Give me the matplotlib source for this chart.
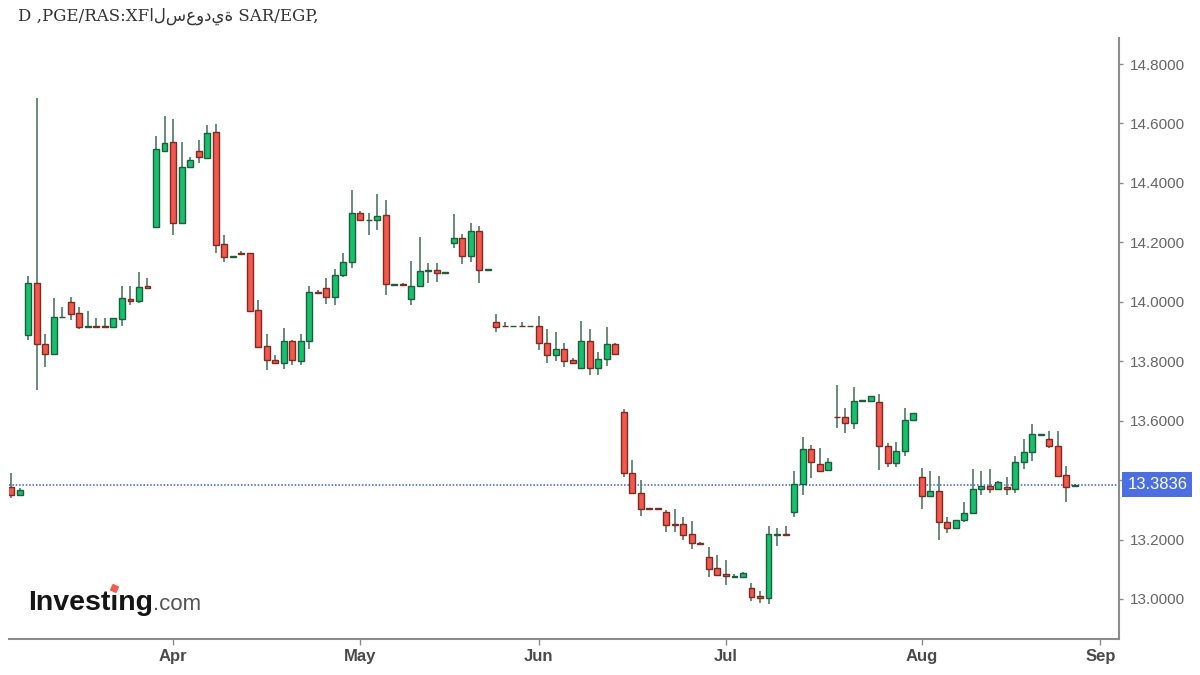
import matplotlib
matplotlib.use("Agg")
import matplotlib.pyplot as plt
from matplotlib.lines import Line2D
from matplotlib.transforms import blended_transform_factory
import numpy as np
import pandas as pd

# ---------------- data ----------------
first_day = "2025-03-05"
week_mask = "Sun Mon Tue Wed Thu"

opens = [13.377, 13.350, 13.888, 14.064, 13.858, 13.824, 13.948, 13.999, 13.961, 13.915,
         13.917, 13.917, 13.916, 13.942, 14.008, 14.004, 14.053, 14.253, 14.508, 14.537,
         14.264, 14.455, 14.509, 14.483, 14.570, 14.195, 14.151, 14.163, 14.163, 13.972,
         13.852, 13.804, 13.793, 13.869, 13.802, 13.869, 14.033, 14.047, 14.015, 14.090,
         14.133, 14.298, 14.274, 14.275, 14.292, 14.058, 14.060, 14.009, 14.053, 14.104,
         14.107, 14.096, 14.199, 14.216, 14.154, 14.238, 14.108, 13.933, 13.920, 13.918,
         13.920, 13.918, 13.919, 13.862, 13.820, 13.840, 13.804, 13.776, 13.868, 13.776,
         13.808, 13.858, 13.630, 13.425, 13.358, 13.305, 13.305, 13.294, 13.252, 13.251,
         13.218, 13.189, 13.142, 13.103, 13.083, 13.075, 13.075, 13.038, 13.011, 13.002,
         13.217, 13.219, 13.292, 13.386, 13.505, 13.454, 13.434, 13.614, 13.613, 13.591,
         13.666, 13.667, 13.664, 13.515, 13.457, 13.499, 13.602, 13.412, 13.347, 13.363,
         13.258, 13.238, 13.266, 13.288, 13.369, 13.380, 13.369, 13.376, 13.369, 13.462,
         13.496, 13.553, 13.537, 13.516, 13.417, 13.381]
highs = [13.425, 13.372, 14.088, 14.685, 13.892, 14.012, 13.983, 14.017, 13.981, 13.969,
         13.947, 13.947, 13.944, 14.054, 14.054, 14.101, 14.081, 14.559, 14.625, 14.614,
         14.537, 14.486, 14.544, 14.595, 14.598, 14.225, 14.153, 14.172, 14.165, 14.006,
         13.892, 13.821, 13.913, 13.872, 13.892, 14.054, 14.040, 14.081, 14.109, 14.163,
         14.376, 14.306, 14.298, 14.363, 14.343, 14.060, 14.062, 14.137, 14.219, 14.130,
         14.130, 14.101, 14.294, 14.228, 14.264, 14.256, 14.110, 13.958, 13.932, 13.920,
         13.933, 13.920, 13.952, 13.907, 13.899, 13.860, 13.810, 13.935, 13.907, 13.832,
         13.914, 13.860, 13.638, 13.468, 13.400, 13.306, 13.306, 13.300, 13.302, 13.277,
         13.262, 13.192, 13.176, 13.148, 13.131, 13.085, 13.090, 13.055, 13.028, 13.246,
         13.240, 13.246, 13.431, 13.544, 13.518, 13.507, 13.473, 13.720, 13.644, 13.712,
         13.670, 13.684, 13.690, 13.524, 13.529, 13.642, 13.625, 13.440, 13.431, 13.414,
         13.277, 13.266, 13.327, 13.436, 13.431, 13.436, 13.398, 13.410, 13.481, 13.538,
         13.589, 13.556, 13.565, 13.565, 13.448, 13.386]
lows = [13.339, 13.350, 13.871, 13.703, 13.782, 13.824, 13.947, 13.939, 13.909, 13.915,
        13.915, 13.915, 13.916, 13.919, 13.989, 13.997, 14.045, 14.253, 14.508, 14.225,
        14.264, 14.455, 14.468, 14.479, 14.165, 14.135, 14.150, 14.160, 13.970, 13.849,
        13.771, 13.793, 13.773, 13.787, 13.787, 13.840, 14.031, 13.993, 13.989, 14.085,
        14.113, 14.275, 14.224, 14.242, 14.023, 14.058, 14.058, 13.989, 14.053, 14.062,
        14.068, 14.094, 14.180, 14.126, 14.135, 14.062, 14.107, 13.897, 13.918, 13.918,
        13.918, 13.918, 13.838, 13.795, 13.802, 13.782, 13.793, 13.776, 13.754, 13.754,
        13.784, 13.824, 13.412, 13.358, 13.279, 13.304, 13.304, 13.226, 13.226, 13.199,
        13.167, 13.184, 13.075, 13.081, 13.047, 13.075, 13.075, 12.993, 12.985, 12.983,
        13.178, 13.217, 13.275, 13.350, 13.406, 13.432, 13.434, 13.574, 13.558, 13.571,
        13.665, 13.667, 13.434, 13.445, 13.445, 13.481, 13.602, 13.302, 13.347, 13.199,
        13.221, 13.238, 13.260, 13.288, 13.350, 13.356, 13.369, 13.350, 13.356, 13.437,
        13.465, 13.553, 13.507, 13.414, 13.327, 13.381]
closes = [13.350, 13.367, 14.064, 13.857, 13.824, 13.950, 13.950, 13.959, 13.914, 13.917,
          13.915, 13.915, 13.944, 14.012, 14.003, 14.051, 14.045, 14.514, 14.533, 14.264,
          14.455, 14.477, 14.486, 14.569, 14.191, 14.150, 14.152, 14.160, 13.970, 13.849,
          13.804, 13.793, 13.869, 13.804, 13.869, 14.032, 14.031, 14.015, 14.090, 14.133,
          14.298, 14.275, 14.276, 14.290, 14.059, 14.060, 14.058, 14.053, 14.104, 14.107,
          14.096, 14.101, 14.216, 14.154, 14.238, 14.107, 14.110, 13.916, 13.918, 13.920,
          13.918, 13.920, 13.862, 13.820, 13.842, 13.802, 13.793, 13.868, 13.776, 13.808,
          13.858, 13.824, 13.423, 13.358, 13.303, 13.304, 13.304, 13.249, 13.250, 13.215,
          13.189, 13.184, 13.101, 13.081, 13.077, 13.078, 13.089, 13.008, 13.004, 13.218,
          13.219, 13.217, 13.386, 13.505, 13.460, 13.432, 13.460, 13.612, 13.591, 13.667,
          13.668, 13.684, 13.515, 13.457, 13.499, 13.602, 13.625, 13.347, 13.363, 13.258,
          13.238, 13.266, 13.288, 13.369, 13.380, 13.369, 13.395, 13.369, 13.462, 13.496,
          13.554, 13.555, 13.516, 13.414, 13.378, 13.3836]

month_starts = ["2025-04-01", "2025-05-01", "2025-06-01", "2025-07-01", "2025-08-01", "2025-09-01"]
month_labels = ["Apr", "May", "Jun", "Jul", "Aug", "Sep"]
y_ticks = [13.0, 13.2, 13.4, 13.6, 13.8, 14.0, 14.2, 14.4, 14.6, 14.8]

title_text = "D ,PGE/RAS:XF" + "السعودية" + " SAR/EGP,"

# ---------------- figure ----------------
plt.rcParams["font.family"] = ["Liberation Sans", "DejaVu Sans"]
W, H = 1200, 675
fig = plt.figure(figsize=(W / 100, H / 100), dpi=100, facecolor="white")
ax = fig.add_axes([9 / W, 1 - 639 / H, 1110 / W, (639 - 38) / H])
ax.set_facecolor("white")

dates = pd.bdate_range(first_day, periods=len(opens), freq="C", weekmask=week_mask)
x = np.arange(len(dates))
o = np.array(opens); c = np.array(closes); hi = np.array(highs); lo = np.array(lows)
up = c >= o

face = np.where(up, "#14c26c", "#f4584c")
edge = np.where(up, "#1d5c3c", "#7c2a22")
body_bottom = np.minimum(o, c)
body_h = np.maximum(np.abs(c - o), 0.0015)

ax.vlines(x, lo, hi, color="#4d7a61", lw=1.2, zorder=2)
ax.bar(x, body_h, bottom=body_bottom, width=0.7, color=face, edgecolor=edge,
       linewidth=1.0, zorder=3)

ax.set_xlim(-0.28, 130.2)
ax.set_ylim(12.8654, 14.8876)

# current price line
last = closes[-1]
ax.axhline(last, color="#2f5ef5", ls=(0, (1, 1.2)), lw=1.1, zorder=1)

# spines
for s in ("top", "left"):
    ax.spines[s].set_visible(False)
for s in ("right", "bottom"):
    ax.spines[s].set_color("#8c8c8c")
    ax.spines[s].set_linewidth(1.5)

# y axis on the right (the 13.4 label is hidden behind the price box)
ax.yaxis.tick_right()
ax.set_yticks(y_ticks)
ax.set_yticklabels(["" if abs(v - last) < 0.05 else f"{v:.4f}" for v in y_ticks])
ax.tick_params(axis="y", length=3, width=1, color="#8c8c8c", pad=5,
               labelsize=11, labelcolor="#666666")

# x axis month ticks (trading-day index of each month start)
month_pos = [np.busday_count(first_day, m, weekmask=week_mask) for m in month_starts]
ax.set_xticks(month_pos)
ax.set_xticklabels(month_labels, fontweight="bold")
ax.tick_params(axis="x", length=4, width=1, color="#8c8c8c", pad=3,
               labelsize=12, labelcolor="#4a4a4a")

# price box
bt = blended_transform_factory(ax.transAxes, ax.transData)
ax.annotate(f"{last:.4f}", xy=(1.0, last), xycoords=bt, xytext=(6, 0),
            textcoords="offset points", ha="left", va="center", fontsize=12,
            color="white", annotation_clip=False, zorder=10,
            bbox=dict(boxstyle="square,pad=0.3", fc="#4b6fe2", ec="none"))

# title
fig.text(18 / W, 1 - 21 / H, title_text, fontsize=12, color="#333333",
         family=["DejaVu Serif", "DejaVu Sans"], va="baseline", ha="left")

# Investing.com logo
renderer = fig.canvas.get_renderer()
base_y = 1 - 610 / H
logo_fs = 20.5
t1 = fig.text(28 / W, base_y, "Investıng", fontsize=logo_fs, weight="bold",
              color="#151515", va="baseline", ha="left", family="Liberation Sans")
bb1 = t1.get_window_extent(renderer)
fig.text(bb1.x1 / W, base_y, ".com", fontsize=16, color="#555555",
         va="baseline", ha="left", family="Liberation Sans")
tmp_a = fig.text(28 / W, base_y, "Invest", fontsize=logo_fs, weight="bold",
                 va="baseline", ha="left", family="Liberation Sans")
tmp_b = fig.text(28 / W, base_y, "Investı", fontsize=logo_fs, weight="bold",
                 va="baseline", ha="left", family="Liberation Sans")
xa = tmp_a.get_window_extent(renderer).x1
xb = tmp_b.get_window_extent(renderer).x1
tmp_a.remove(); tmp_b.remove()
em_px = logo_fs * 100 / 72
dot_x = (xa + xb) / 2
dot_y = (H - 610) + 0.78 * em_px
fig.add_artist(Line2D([dot_x / W], [dot_y / H], transform=fig.transFigure,
                      marker=(4, 0, 20), ms=6, color="#f4594d", mec="#f4594d"))

fig.savefig("out.png", dpi=100, facecolor="white")
